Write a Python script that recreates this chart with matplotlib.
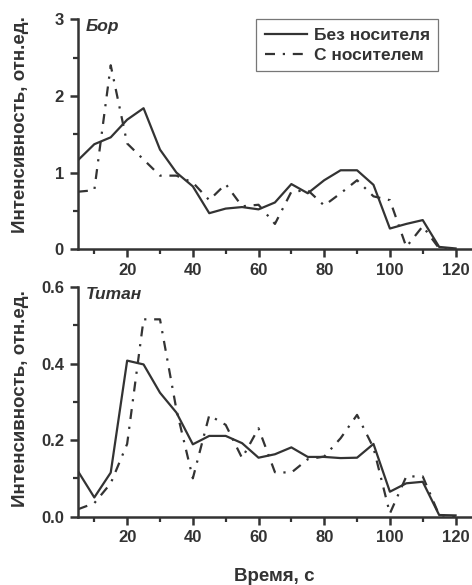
import numpy as np
import matplotlib.pyplot as plt
from matplotlib.ticker import MultipleLocator

plt.rcParams['font.family'] = ['Liberation Sans', 'DejaVu Sans']
plt.rcParams['font.weight'] = 'bold'

# время, с
t = [5, 10, 15, 20, 25, 30, 35, 40, 45, 50, 55, 60,
     65, 70, 75, 80, 85, 90, 95, 100, 105, 110, 115, 120]

# Бор
bor_bez = [1.16, 1.37, 1.46, 1.69, 1.84, 1.30, 1.00, 0.82, 0.47, 0.53, 0.55, 0.52,
           0.61, 0.85, 0.73, 0.90, 1.03, 1.03, 0.84, 0.27, 0.33, 0.38, 0.03, 0.01]
bor_s = [0.75, 0.77, 2.40, 1.38, 1.17, 0.96, 0.96, 0.87, 0.64, 0.85, 0.56, 0.58,
         0.33, 0.75, 0.77, 0.57, 0.73, 0.90, 0.69, 0.64, 0.03, 0.30, 0.01, 0.0]

# Титан
ti_bez = [0.119, 0.050, 0.115, 0.408, 0.398, 0.324, 0.272, 0.189, 0.211, 0.211, 0.192, 0.154,
          0.163, 0.181, 0.156, 0.156, 0.153, 0.154, 0.190, 0.065, 0.087, 0.091, 0.004, 0.003]
ti_s = [0.019, 0.035, 0.087, 0.190, 0.516, 0.516, 0.280, 0.100, 0.265, 0.240, 0.153, 0.231,
        0.116, 0.115, 0.150, 0.157, 0.205, 0.266, 0.180, 0.008, 0.105, 0.105, 0.004, 0.0]

col = '#333333'
dashdot = (0, (4.5, 3.5, 1, 3.5))
fs_tick = 12
fs_lab = 13.5

fig = plt.figure(figsize=(4.72, 5.85), dpi=100)
ax1 = fig.add_axes([0.165, 0.574, 0.835, 0.393])
ax2 = fig.add_axes([0.165, 0.117, 0.835, 0.392])

for ax in (ax1, ax2):
    for s in ('top', 'right'):
        ax.spines[s].set_visible(False)
    for s in ('left', 'bottom'):
        ax.spines[s].set_linewidth(1.8)
        ax.spines[s].set_color(col)
    ax.set_xlim(5, 125)
    ax.xaxis.set_major_locator(MultipleLocator(20))
    ax.xaxis.set_minor_locator(MultipleLocator(10))
    ax.tick_params(which='major', direction='out', length=6, width=1.8, color=col,
                   labelsize=fs_tick, labelcolor=col, pad=4)
    ax.tick_params(which='minor', direction='out', length=3.5, width=1.6, color=col)

ax1.plot(t, bor_bez, color=col, lw=1.6, label='Без носителя')
ax1.plot(t, bor_s, color=col, lw=1.6, linestyle=dashdot, label='С носителем')
ax1.set_ylim(0, 3)
ax1.yaxis.set_major_locator(MultipleLocator(1))
ax1.yaxis.set_minor_locator(MultipleLocator(0.5))
ax1.text(0.02, 1.0, 'Бор', transform=ax1.transAxes, fontsize=12.5, fontweight='bold',
         style='italic', color=col, va='top', ha='left')
leg = ax1.legend(loc='upper right', bbox_to_anchor=(0.915, 1.0), fontsize=12.5,
                 frameon=True, fancybox=False, edgecolor='#555555',
                 handlelength=2.4, handletextpad=0.4, borderpad=0.5, labelspacing=0.25,
                 borderaxespad=0.0)
leg.get_frame().set_linewidth(0.9)
for txt in leg.get_texts():
    txt.set_color(col)
    txt.set_fontweight('bold')

ax2.plot(t, ti_bez, color=col, lw=1.6)
ax2.plot(t, ti_s, color=col, lw=1.6, linestyle=dashdot)
ax2.set_ylim(0, 0.6)
ax2.yaxis.set_major_locator(MultipleLocator(0.2))
ax2.yaxis.set_minor_locator(MultipleLocator(0.1))
ax2.yaxis.set_major_formatter(plt.FormatStrFormatter('%.1f'))
ax2.text(0.02, 1.0, 'Титан', transform=ax2.transAxes, fontsize=12.5, fontweight='bold',
         style='italic', color=col, va='top', ha='left')

for ax in (ax1, ax2):
    for lab in ax.get_xticklabels() + ax.get_yticklabels():
        lab.set_fontweight('bold')
    ax.set_ylabel('Интенсивность, отн.ед.', fontsize=fs_lab, fontweight='bold', color=col)

ax1.yaxis.set_label_coords(-0.124, 0.543)
ax2.yaxis.set_label_coords(-0.124, 0.513)

ax2.set_xlabel('Время, с', fontsize=fs_lab, fontweight='bold', color=col)
ax2.xaxis.set_label_coords(0.497, -0.225)

fig.savefig('out.png', dpi=100)
